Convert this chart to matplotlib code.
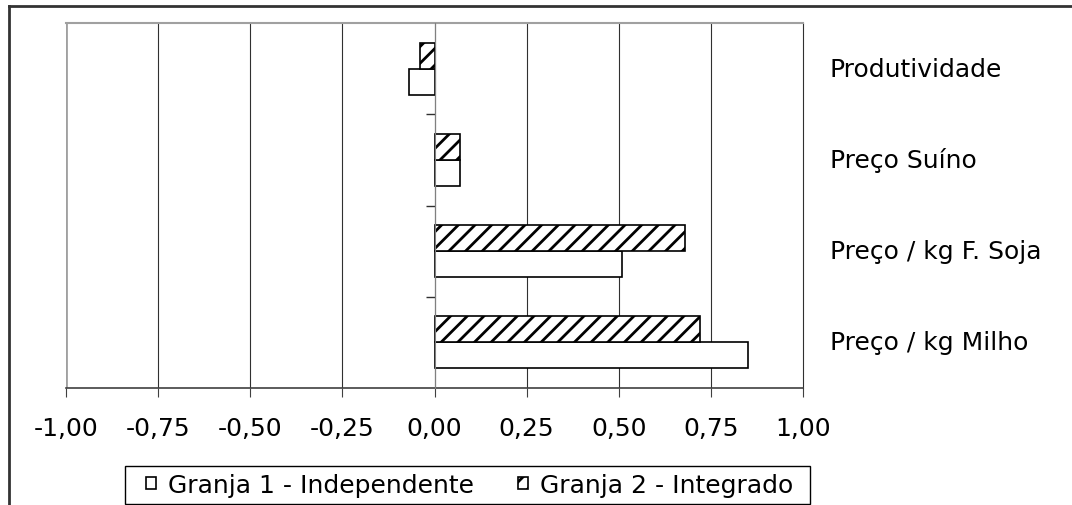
import matplotlib
matplotlib.use('Agg')
import matplotlib.pyplot as plt
from matplotlib.lines import Line2D
from matplotlib.patches import Rectangle
import matplotlib.transforms as mtransforms
import numpy

categorias = ['Preço / kg Milho', 'Preço / kg F. Soja', 'Preço Suíno', 'Produtividade']
granja1 = [0.85, 0.51, 0.07, -0.07]
granja2 = [0.72, 0.68, 0.07, -0.04]
series = ['Granja 1 - Independente', 'Granja 2 - Integrado']
xticks = [-1.00, -0.75, -0.50, -0.25, 0.00, 0.25, 0.50, 0.75, 1.00]

W, H = 1072, 506


def fx(px):
    return px / W


def fy(py):
    return 1 - py / H


def desenhar():
    plt.rcParams['font.family'] = ['DejaVu Sans']
    plt.rcParams['hatch.linewidth'] = 2.0
    fig = plt.figure(figsize=(W / 100, H / 100), dpi=100)
    ax = fig.add_axes([fx(66), fy(389), fx(803) - fx(66), fy(24) - fy(389)])

    y = numpy.arange(len(categorias))
    h = 0.285
    ax.barh(y - h / 2, granja1, height=h, color='white', edgecolor='black',
            linewidth=1.2, label=series[0], zorder=3)
    ax.barh(y + h / 2, granja2, height=h, color='white', edgecolor='black',
            linewidth=1.2, hatch='//', label=series[1], zorder=3)

    ax.set_xlim(-1, 1)
    ax.set_ylim(-0.5, len(categorias) - 0.5)

    # grade vertical
    for v in xticks[1:-1]:
        ax.axvline(v, color='#303030', linewidth=0.8, zorder=1)
    ax.axvline(-1, color='#a0a0a0', linewidth=2, zorder=1)

    ax.spines['left'].set_position(('data', 0))
    ax.spines['left'].set_color('#808080')
    ax.spines['left'].set_zorder(4)
    ax.spines['top'].set_color('#a0a0a0')
    ax.spines['top'].set_linewidth(1.5)
    ax.spines['right'].set_color('#303030')
    ax.spines['right'].set_linewidth(0.8)
    ax.spines['bottom'].set_color('#404040')
    ax.spines['bottom'].set_linewidth(1.2)

    ax.set_xticks(xticks)
    ax.set_xticklabels([('%.2f' % v).replace('.', ',') for v in xticks])
    ax.tick_params(axis='x', direction='out', length=6.5, width=0.8,
                   color='#404040', labelsize=18, pad=14)
    ax.set_yticks(numpy.arange(len(categorias) - 1) + 0.5)
    ax.set_yticklabels([])
    ax.tick_params(axis='y', direction='out', length=6.5, width=1,
                   color='#303030')

    trans = mtransforms.blended_transform_factory(ax.transAxes, ax.transData)
    xl = (830 - 66) / (803 - 66)
    for i, nome in enumerate(categorias):
        ax.text(xl, y[i], nome, transform=trans, ha='left', va='center',
                fontsize=18)

    leg = fig.legend(loc='center left', bbox_to_anchor=(fx(146), fy(486)),
                     ncol=2, frameon=False, fontsize=18, borderpad=0,
                     borderaxespad=0, handlelength=0.4, handleheight=0.4,
                     handletextpad=0.5, columnspacing=1.74)

    fig.add_artist(Rectangle((fx(125), fy(505)), fx(810) - fx(125),
                             fy(467) - fy(505), transform=fig.transFigure,
                             fill=False, edgecolor='black', linewidth=1))
    # moldura externa
    fig.add_artist(Line2D([fx(9), 1], [fy(7), fy(7)], transform=fig.transFigure,
                          color='#333333', linewidth=2))
    fig.add_artist(Line2D([fx(9), fx(9)], [0, fy(7)], transform=fig.transFigure,
                          color='#333333', linewidth=2))

    fig.savefig('out.png', dpi=100)


if __name__ == '__main__':
    desenhar()
